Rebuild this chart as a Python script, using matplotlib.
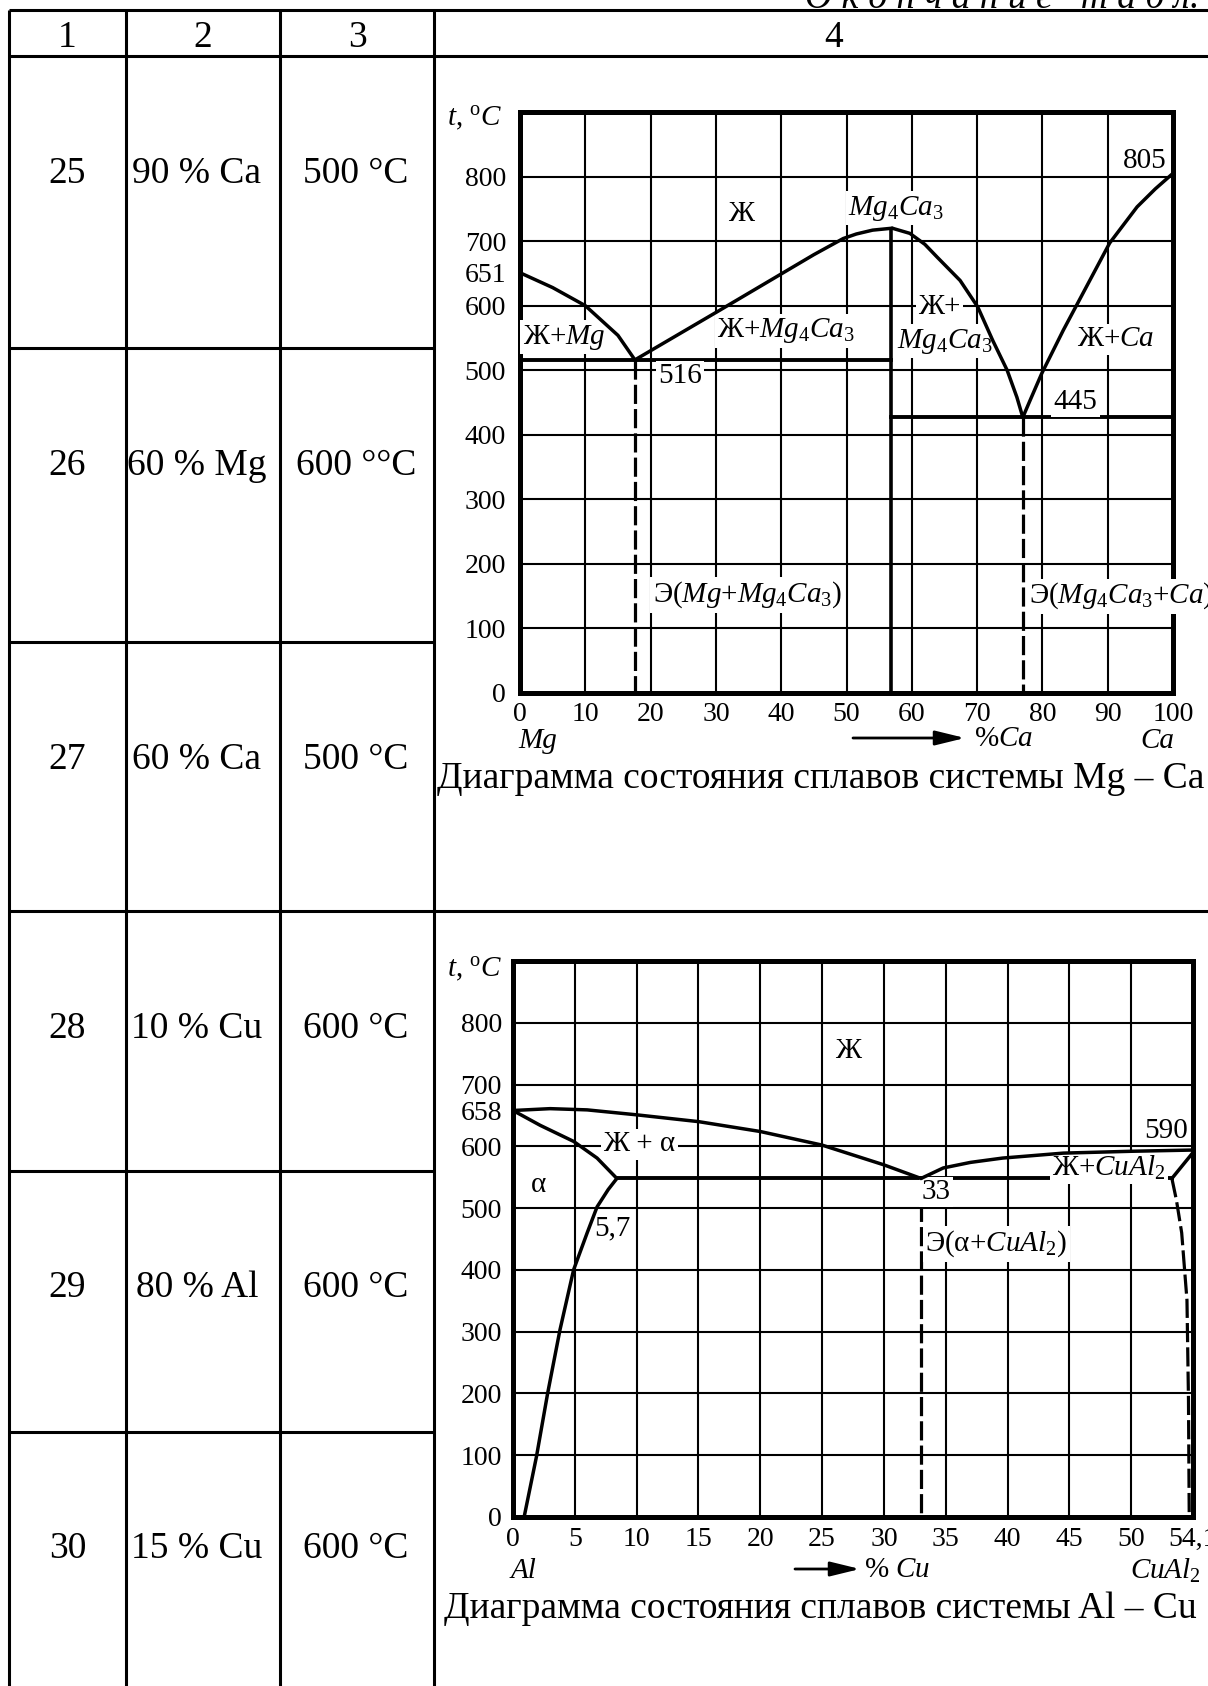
import numpy as np
import matplotlib
matplotlib.use('Agg')
import matplotlib.pyplot as plt

plt.rcParams['font.family'] = ['Liberation Serif', 'DejaVu Serif']
plt.rcParams['mathtext.fontset'] = 'custom'
plt.rcParams['mathtext.rm'] = 'Liberation Serif'
plt.rcParams['mathtext.it'] = 'Liberation Serif:italic'
plt.rcParams['mathtext.bf'] = 'Liberation Serif:bold'

# ---------------- table data ----------------
header = ['1', '2', '3', '4']
variants = ['25', '26', '27', '28', '29', '30']
compositions = ['90 % Ca', '60 % Mg', '60 % Ca', '10 % Cu', '80 % Al', '15 % Cu']
temperatures = ['500 °C', '600 °°C', '500 °C', '600 °C', '600 °C', '600 °C']
captions = ['Диаграмма состояния сплавов системы Mg – Ca',
            'Диаграмма состояния сплавов системы Al – Cu']
top_note = 'О к о н ч а н и е   т а б л. 6'

# ---------------- Mg - Ca diagram ----------------
mgca_xticks = [0, 10, 20, 30, 40, 50, 60, 70, 80, 90, 100]
mgca_yticks = [0, 100, 200, 300, 400, 500, 600, 700, 800]
mgca_extra_ytick = [651]
mgca_liq_mg_x = [0, 5, 10, 15, 17.6]
mgca_liq_mg_t = [651, 628, 600, 554, 516]
mgca_liq_c1_x = [17.6, 30.6, 45, 49.5, 51.5, 54, 57.0]
mgca_liq_c1_t = [516, 593, 679, 704, 711, 717, 720]
mgca_liq_c2_x = [57.0, 59.7, 62.0, 63.9, 67.4, 70.1, 72.4, 74.6, 76.1, 77.0]
mgca_liq_c2_t = [720, 712, 695, 675, 639, 598, 546, 500, 458, 427]
mgca_liq_ca_x = [77.0, 78.1, 79.9, 83.2, 86.2, 90.3, 94.5, 97.3, 100]
mgca_liq_ca_t = [427, 453, 495, 562, 619, 697, 753, 781, 805]
mgca_compound_x = 56.8
mgca_compound_t = 718
mgca_eut1_x, mgca_eut1_t = 17.6, 516
mgca_eut2_x, mgca_eut2_t = 77.0, 427

# ---------------- Al - Cu diagram ----------------
alcu_xticks = [0, 5, 10, 15, 20, 25, 30, 35, 40, 45, 50, 54.1]
alcu_xticklabels = ['0', '5', '10', '15', '20', '25', '30', '35', '40', '45', '50', '54,1']
alcu_yticks = [0, 100, 200, 300, 400, 500, 600, 700, 800]
alcu_extra_ytick = [658]
alcu_liq_al_x = [0, 3, 6, 10, 15, 20, 25, 30, 33]
alcu_liq_al_t = [658, 661, 659, 651, 640, 624, 602, 570, 548]
alcu_sol_x = [0, 2.2, 4.9, 6.8, 8.4]
alcu_sol_t = [658, 634, 608, 581, 548]
alcu_solvus_x = [8.4, 7.7, 6.8, 6.0, 4.9, 3.8, 2.8, 1.9, 0.9]
alcu_solvus_t = [548, 530, 502, 460, 400, 303, 200, 98, 0]
alcu_liq_cual2_x = [33, 34.8, 37, 39.6, 44.5, 50, 54.1]
alcu_liq_cual2_t = [548, 565, 574, 581, 589, 592, 594]
alcu_sol_cual2_x = [54.1, 52.7]
alcu_sol_cual2_t = [590, 548]
alcu_solvus_cual2_x = [52.7, 53.0, 53.35, 53.7, 53.8, 53.85]
alcu_solvus_cual2_t = [548, 513, 460, 351, 190, 0]
alcu_eut_x, alcu_eut_t = 33, 548
alcu_eut_line_x = [8.4, 52.7]

# ---------------- figure ----------------
W, H = 1208, 1686
fig = plt.figure(figsize=(W / 100, H / 100), dpi=100)
bg = fig.add_axes([0, 0, 1, 1], zorder=0)
bg.set_xlim(0, W)
bg.set_ylim(H, 0)
bg.axis('off')

lwT = 2.2
for x in [9, 126, 280, 434]:
    bg.plot([x, x], [10, H + 5], color='k', lw=lwT, solid_capstyle='butt')
for y in [10, 56, 911]:
    bg.plot([9, W + 5], [y, y], color='k', lw=lwT, solid_capstyle='butt')
for y in [348, 642, 1171, 1432]:
    bg.plot([9, 434], [y, y], color='k', lw=lwT, solid_capstyle='butt')

FS = 27
for s, x in zip(header, [67.5, 203, 357, 834]):
    bg.text(x, 47, s, ha='center', va='baseline', fontsize=FS)
row_base = [183, 475, 769, 1038, 1297, 1558]
for v, c, t, y in zip(variants, compositions, temperatures, row_base):
    bg.text(67.5, y, v, ha='center', va='baseline', fontsize=FS)
    bg.text(197, y, c, ha='center', va='baseline', fontsize=FS)
    bg.text(356, y, t, ha='center', va='baseline', fontsize=FS)

bg.text(805, 8, top_note, ha='left', va='baseline', fontsize=FS, fontstyle='italic')
bg.text(437, 788, captions[0], ha='left', va='baseline', fontsize=27)
bg.text(444, 1618, captions[1], ha='left', va='baseline', fontsize=27)

TS = 20
bbox = dict(boxstyle='square,pad=0.08', fc='white', ec='none')

def style_axes(ax, ypad, xpad):
    for s in ax.spines.values():
        s.set_linewidth(3.6)
        s.set_zorder(2.5)
    ax.grid(True, which='major', color='k', lw=1.5)
    ax.set_axisbelow(True)
    ax.tick_params(which='both', length=0, labelsize=TS)
    ax.tick_params(axis='y', which='both', pad=ypad)
    ax.tick_params(axis='x', which='both', pad=xpad)

# ---- chart 1: Mg - Ca
ax1 = fig.add_axes([520 / W, 1 - 693 / H, (1173 - 520) / W, (693 - 112) / H], zorder=2)
ax1.set_xlim(0, 100)
ax1.set_ylim(0, 900)
ax1.set_xticks(mgca_xticks)
ax1.set_yticks(mgca_yticks)
ax1.set_yticks(mgca_extra_ytick, minor=True)
ax1.set_yticklabels([str(v) for v in mgca_extra_ytick], minor=True)
style_axes(ax1, 10, 6.5)

cl = dict(color='k', lw=2.5, zorder=4, solid_capstyle='round', solid_joinstyle='round')
ax1.plot(mgca_liq_mg_x, mgca_liq_mg_t, **cl)
ax1.plot(mgca_liq_c1_x, mgca_liq_c1_t, **cl)
ax1.plot(mgca_liq_c2_x, mgca_liq_c2_t, **cl)
ax1.plot(mgca_liq_ca_x, mgca_liq_ca_t, **cl)
ax1.plot([mgca_compound_x, mgca_compound_x], [0, mgca_compound_t], color='k', lw=2.6, zorder=4)
ax1.plot([0, mgca_compound_x], [mgca_eut1_t, mgca_eut1_t], color='k', lw=2.8, zorder=2.8)
ax1.plot([mgca_compound_x, 100], [mgca_eut2_t, mgca_eut2_t], color='k', lw=2.8, zorder=2.8)
dl = dict(color='k', lw=2.3, dashes=(6, 1.6), zorder=2.8)
ax1.plot([mgca_eut1_x, mgca_eut1_x], [mgca_eut1_t, 0], **dl)
ax1.plot([mgca_eut2_x, mgca_eut2_x], [mgca_eut2_t, 0], **dl)

lab1 = [
    ('Ж', 33.9, 742, 'center', False),
    ('$Mg_4Ca_3$', 57.6, 751, 'center', True),
    ('Ж+$Mg$', 0.4, 551, 'left', True),
    ('Ж+$Mg_4Ca_3$', 40.7, 561, 'center', True),
    ('516', 24.5, 491, 'center', True),
    ('Ж+', 64.2, 598, 'center', True),
    ('$Mg_4Ca_3$', 65.0, 545, 'center', True),
    ('Ж+$Ca$', 91.3, 548, 'center', True),
    ('445', 85.1, 451, 'center', True),
    ('805', 95.7, 824, 'center', False),
    ('Э($Mg$+$Mg_4Ca_3$)', 20.3, 152, 'left', True),
    ('Э($Mg_4Ca_3$+$Ca$)', 77.9, 150, 'left', True),
]
for s, x, y, ha, b in lab1:
    ax1.text(x, y, s, ha=ha, va='center', fontsize=21, zorder=3,
             bbox=bbox if b else None, clip_on=False)

bg.text(475, 119, r'$t$, $^{\mathrm{o}}C$', ha='center', va='center', fontsize=21)
bg.text(538, 741, 'Mg', ha='center', va='center', fontsize=21, fontstyle='italic')
bg.text(1157, 741, 'Ca', ha='center', va='center', fontsize=21, fontstyle='italic')
bg.text(1004, 739, '%$Ca$', ha='center', va='center', fontsize=21)
bg.annotate('', xy=(965, 738), xytext=(853, 738),
            arrowprops=dict(arrowstyle='-|>,head_length=0.9,head_width=0.22', color='k',
                            lw=2, mutation_scale=20, shrinkA=0, shrinkB=0))

# ---- chart 2: Al - Cu
def fwd(x):
    x = np.asarray(x, dtype=float)
    return np.where(x <= 50, x, 50 + (x - 50) * 5 / 4.1)

def inv(p):
    p = np.asarray(p, dtype=float)
    return np.where(p <= 50, p, 50 + (p - 50) * 4.1 / 5)

ax2 = fig.add_axes([513 / W, 1 - 1517 / H, (1193 - 513) / W, (1517 - 961) / H], zorder=2)
ax2.set_xscale('function', functions=(fwd, inv))
ax2.set_xlim(0, 54.1)
ax2.set_ylim(0, 900)
ax2.set_xticks(alcu_xticks)
ax2.set_xticklabels(alcu_xticklabels)
ax2.set_yticks(alcu_yticks)
ax2.set_yticks(alcu_extra_ytick, minor=True)
ax2.set_yticklabels([str(v) for v in alcu_extra_ytick], minor=True)
ax2.xaxis.set_minor_locator(matplotlib.ticker.NullLocator())
style_axes(ax2, 8, 7)

ax2.plot(alcu_liq_al_x, alcu_liq_al_t, **cl)
ax2.plot(alcu_sol_x, alcu_sol_t, **cl)
ax2.plot(alcu_solvus_x, alcu_solvus_t, **cl)
ax2.plot(alcu_liq_cual2_x, alcu_liq_cual2_t, **cl)
ax2.plot(alcu_sol_cual2_x, alcu_sol_cual2_t, **cl)
ax2.plot(alcu_eut_line_x, [alcu_eut_t, alcu_eut_t], color='k', lw=2.8, zorder=2.8)
ax2.plot([alcu_eut_x, alcu_eut_x], [alcu_eut_t, 0], **dl)
ax2.plot(alcu_solvus_cual2_x, alcu_solvus_cual2_t, **dl)

lab2 = [
    ('Ж', 27.06, 754, 'center', False),
    ('Ж + α', 10.2, 603, 'center', True),
    ('α', 2.1, 538, 'center', False),
    ('5,7', 8.0, 468, 'center', True),
    ('33', 34.2, 526, 'center', True),
    ('Э(α+$CuAl_2$)', 33.35, 442, 'left', True),
    ('Ж+$CuAl_2$', 48.2, 565, 'center', True),
    ('590', 52.3, 625, 'center', False),
]
for s, x, y, ha, b in lab2:
    ax2.text(x, y, s, ha=ha, va='center', fontsize=21, zorder=3,
             bbox=bbox if b else None, clip_on=False)

bg.text(475, 970, r'$t$, $^{\mathrm{o}}C$', ha='center', va='center', fontsize=21)
bg.text(524, 1571, 'Al', ha='center', va='center', fontsize=21, fontstyle='italic')
bg.text(864, 1570, '% $Cu$', ha='left', va='center', fontsize=21)
bg.text(1130, 1571, '$CuAl_2$', ha='left', va='center', fontsize=21)
bg.annotate('', xy=(860, 1569), xytext=(795, 1569),
            arrowprops=dict(arrowstyle='-|>,head_length=0.9,head_width=0.22', color='k',
                            lw=2, mutation_scale=20, shrinkA=0, shrinkB=0))

fig.savefig('out.png', dpi=100)
